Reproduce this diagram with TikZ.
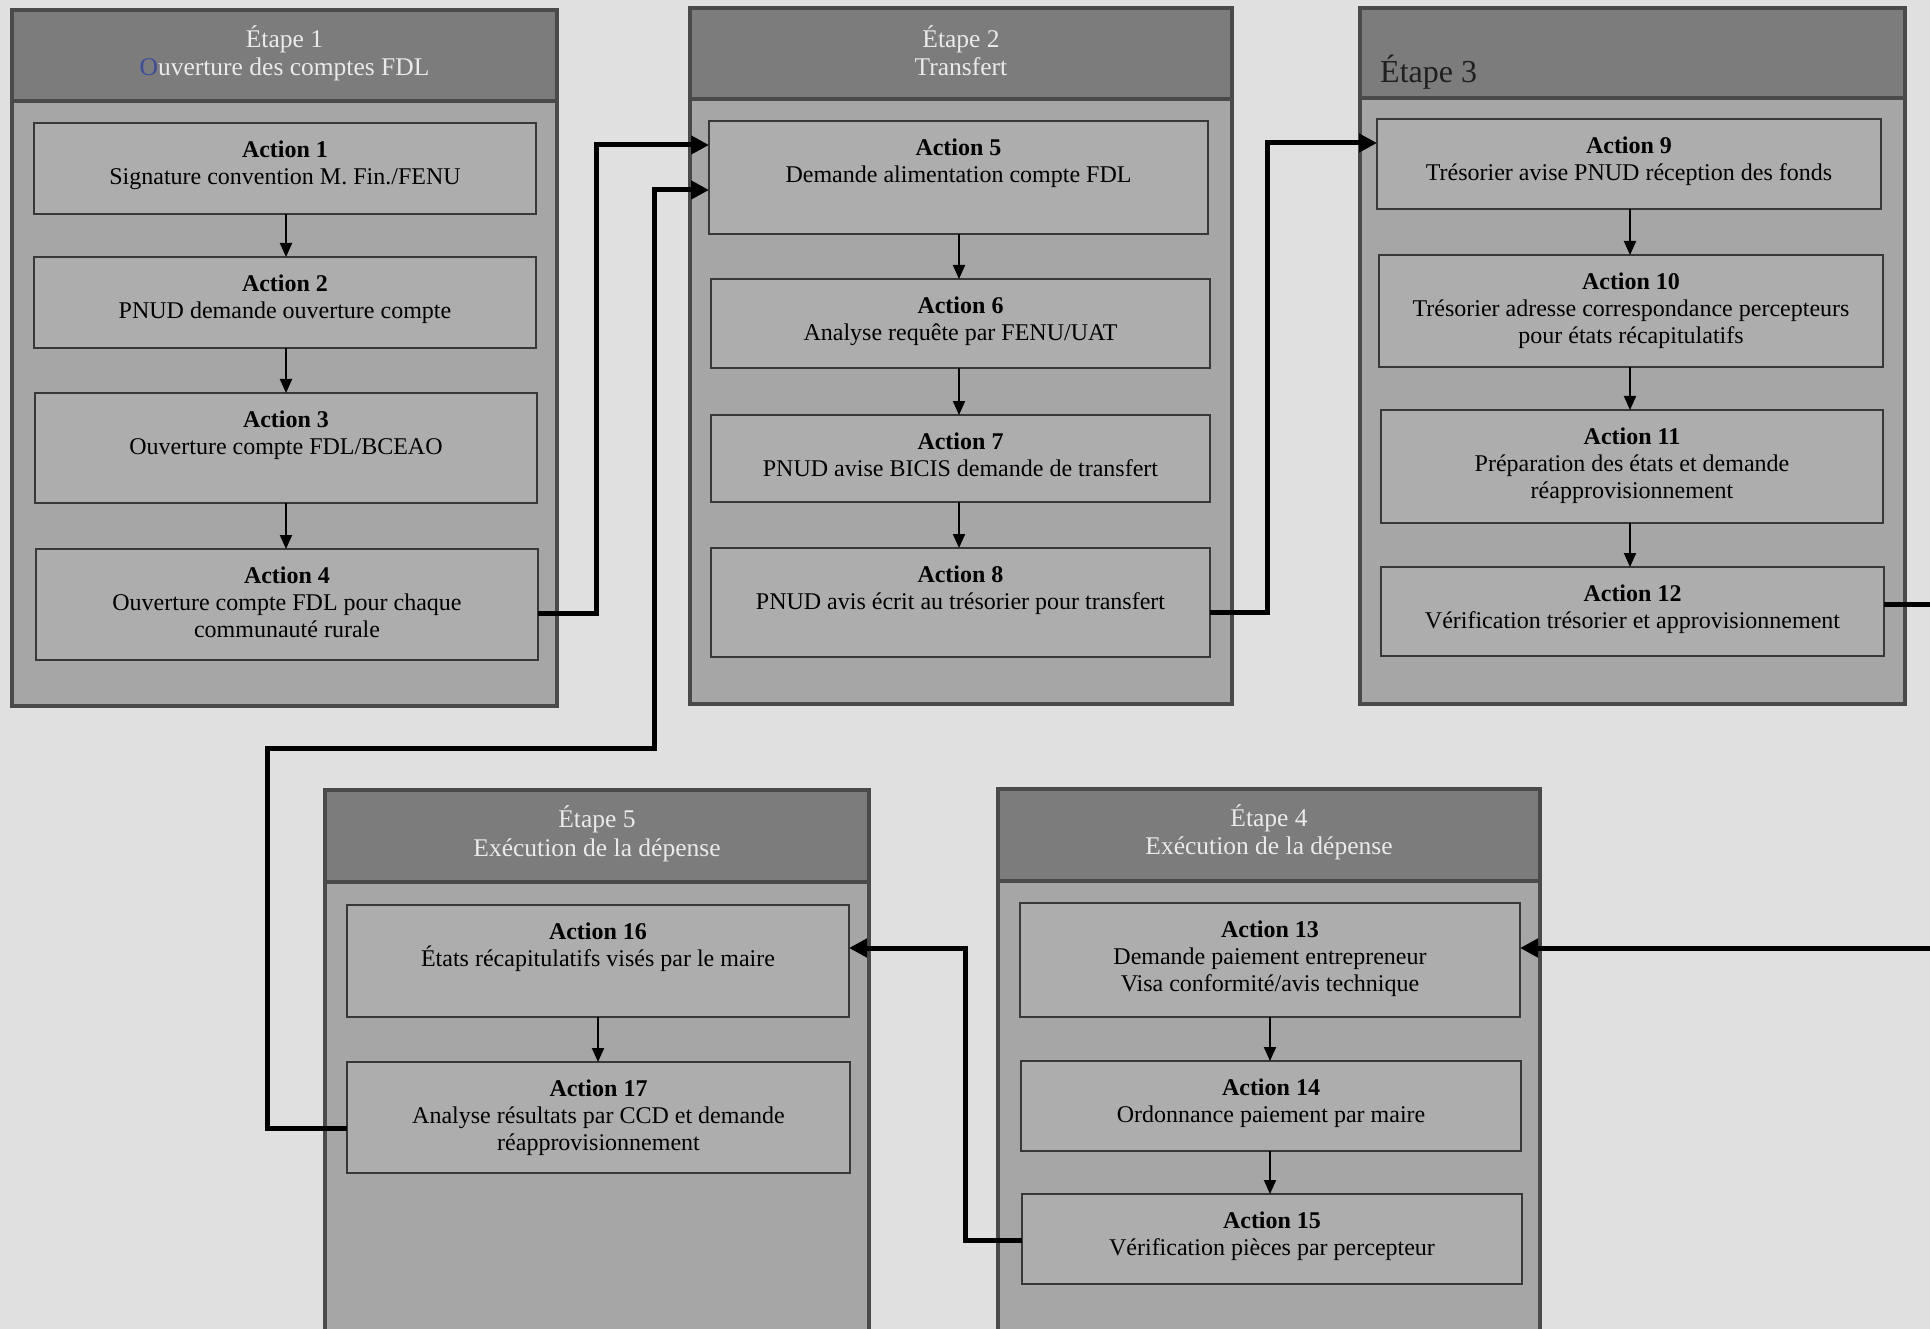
\documentclass[tikz,border=0pt]{standalone}
\usepackage{fontspec}
\setmainfont{Liberation Serif}
\usetikzlibrary{arrows.meta}
\definecolor{bgcol}{HTML}{E0E0E0}
\definecolor{bodycol}{HTML}{A6A6A6}
\definecolor{headcol}{HTML}{7C7C7C}
\definecolor{boxcol}{HTML}{ADADAD}
\definecolor{panelline}{HTML}{4A4A4A}
\definecolor{boxline}{HTML}{383838}
\definecolor{headtext}{HTML}{EAEAEA}
\definecolor{penblue}{HTML}{3C4C9C}
\tikzset{
  actionbox/.style={draw=boxline, line width=1.6pt, fill=boxcol, inner sep=0pt, outer sep=0pt},
  acttext/.style={align=center, inner sep=0pt, font=\fontsize{24}{27}\selectfont, text=black},
  headtxt/.style={align=center, inner sep=0pt, font=\fontsize{25.5}{28.5}\selectfont, text=headtext},
  flowarrow/.style={draw=black, line width=2pt, -{Triangle[length=14pt,width=12pt]}},
  linkline/.style={draw=black, line width=5pt},
  linkarrow/.style={draw=black, line width=5pt, -{Triangle[length=18pt,width=18pt]}},
}
\newcommand{\panelbox}[5]{%
  \fill[bodycol] (#1,#2) rectangle (#3,#4);
  \fill[headcol] (#1,#2) rectangle (#3,#5);
  \draw[panelline, line width=4pt] (#1,#5) -- (#3,#5);
  \draw[panelline, line width=4.5pt] (#1,#2) rectangle (#3,#4);
}
\newcommand{\actbox}[6]{%
  \node[actionbox, minimum width={(#4)-(#2)}, minimum height={(#5)-(#3)}] (#1) at ({((#2)+(#4))/2},{((#3)+(#5))/2}) {};
  \node[acttext, anchor=north] (#1t) at ([yshift=-18pt]#1.north) {#6};
}
\begin{document}
\begin{tikzpicture}[x=1pt,y=-1pt]
\useasboundingbox (0,0) rectangle (1930,1329);
\clip (0,0) rectangle (1930,1329);
\fill[bgcol] (0,0) rectangle (1930,1329);

% panels
\panelbox{12}{10}{557}{706}{101}
\panelbox{690}{8}{1232}{704}{99}
\panelbox{1360}{8}{1905}{704}{98}
\panelbox{325}{790}{869}{1345}{882}
\panelbox{998}{789}{1540}{1345}{881}

% headers
\node[headtxt] (h1) at (284.5,53.5) {Étape 1\\{\color{penblue}O}uverture des comptes FDL};
\node[headtxt] (h2) at (961,50.5) {Étape 2\\Transfert};
\node[inner sep=0pt, anchor=west, font=\fontsize{32}{36}\selectfont, text=black!88] (h3) at (1380,72) {Étape 3};
\node[headtxt] (h5) at (597,834) {Étape 5\\Exécution de la dépense};
\node[headtxt] (h4) at (1269,832.5) {Étape 4\\Exécution de la dépense};

% action boxes
\actbox{a1}{34}{123}{536}{214}{\textbf{Action 1}\\Signature convention M. Fin./FENU}
\actbox{a2}{34}{257}{536}{348}{\textbf{Action 2}\\PNUD demande ouverture compte}
\actbox{a3}{35}{393}{537}{503}{\textbf{Action 3}\\Ouverture compte FDL/BCEAO}
\actbox{a4}{36}{549}{538}{660}{\textbf{Action 4}\\Ouverture compte FDL pour chaque\\communauté rurale}

\actbox{a5}{709}{121}{1208}{234}{\textbf{Action 5}\\Demande alimentation compte FDL}
\actbox{a6}{711}{279}{1210}{368}{\textbf{Action 6}\\Analyse requête par FENU/UAT}
\actbox{a7}{711}{415}{1210}{502}{\textbf{Action 7}\\PNUD avise BICIS demande de transfert}
\actbox{a8}{711}{548}{1210}{657}{\textbf{Action 8}\\PNUD avis écrit au trésorier pour transfert}

\actbox{a9}{1377}{119}{1881}{209}{\textbf{Action 9}\\Trésorier avise PNUD réception des fonds}
\actbox{a10}{1379}{255}{1883}{367}{\textbf{Action 10}\\Trésorier adresse correspondance percepteurs\\pour états récapitulatifs}
\actbox{a11}{1381}{410}{1883}{523}{\textbf{Action 11}\\Préparation des états et demande\\réapprovisionnement}
\actbox{a12}{1381}{567}{1884}{656}{\textbf{Action 12}\\Vérification trésorier et approvisionnement}

\actbox{a16}{347}{905}{849}{1017}{\textbf{Action 16}\\États récapitulatifs visés par le maire}
\actbox{a17}{347}{1062}{850}{1173}{\textbf{Action 17}\\Analyse résultats par CCD et demande\\réapprovisionnement}

\actbox{a13}{1020}{903}{1520}{1017}{\textbf{Action 13}\\Demande paiement entrepreneur\\Visa conformité/avis technique}
\actbox{a14}{1021}{1061}{1521}{1151}{\textbf{Action 14}\\Ordonnance paiement par maire}
\actbox{a15}{1022}{1194}{1522}{1284}{\textbf{Action 15}\\Vérification pièces par percepteur}

% vertical flow arrows
\draw[flowarrow] (a1.south -| 286,0) -- (a2.north -| 286,0);
\draw[flowarrow] (a2.south -| 286,0) -- (a3.north -| 286,0);
\draw[flowarrow] (a3.south -| 286,0) -- (a4.north -| 286,0);
\draw[flowarrow] (a5.south -| 959,0) -- (a6.north -| 959,0);
\draw[flowarrow] (a6.south -| 959,0) -- (a7.north -| 959,0);
\draw[flowarrow] (a7.south -| 959,0) -- (a8.north -| 959,0);
\draw[flowarrow] (a9.south -| 1630,0) -- (a10.north -| 1630,0);
\draw[flowarrow] (a10.south -| 1630,0) -- (a11.north -| 1630,0);
\draw[flowarrow] (a11.south -| 1630,0) -- (a12.north -| 1630,0);
\draw[flowarrow] (a16.south -| 598,0) -- (a17.north -| 598,0);
\draw[flowarrow] (a13.south -| 1270,0) -- (a14.north -| 1270,0);
\draw[flowarrow] (a14.south -| 1270,0) -- (a15.north -| 1270,0);

% links between stages
\coordinate (outA) at (1930,604);
\coordinate (inB) at (1930,948);
\draw[linkarrow] (a4.east |- 0,613) -- (596,613) -- (596,145) -- (a5.west |- 0,145);
\draw[linkarrow] (a17.west |- 0,1128) -- (267,1128) -- (267,748) -- (654,748) -- (654,190) -- (a5.west |- 0,190);
\draw[linkarrow] (a8.east |- 0,612) -- (1267,612) -- (1267,143) -- (a9.west |- 0,143);
\draw[linkline] (a12.east |- 0,604) -- (outA);
\draw[linkarrow] (inB) -- (a13.east |- 0,948);
\draw[linkarrow] (a15.west |- 0,1240) -- (965,1240) -- (965,948) -- (a16.east |- 0,948);
\end{tikzpicture}
\end{document}
